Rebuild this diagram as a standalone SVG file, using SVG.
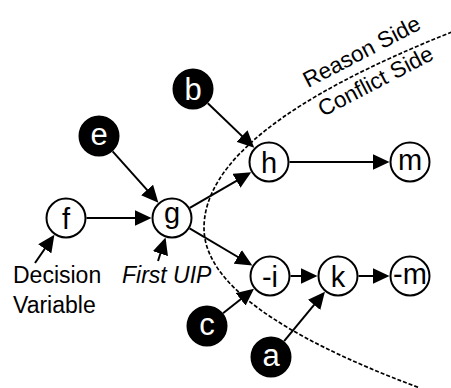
<svg xmlns="http://www.w3.org/2000/svg" width="451" height="388" viewBox="0 0 451 388">
  <style>
    .node circle { fill: #fff; stroke: #000; stroke-width: 2; }
    .node text { font-family: "Liberation Sans", Arial, sans-serif; font-size: 29px; fill: #000; text-anchor: middle; }
    .dark circle { fill: #000; }
    .dark text { fill: #fff; font-size: 31px; }
    .edge { stroke: #000; stroke-width: 2; fill: none; marker-end: url(#arrow); }
    .label { font-family: "Liberation Sans", Arial, sans-serif; font-size: 23px; fill: #000; }
    .side { font-family: "Liberation Sans", Arial, sans-serif; font-size: 22.5px; fill: #000; }
    .cut { fill: none; stroke: #000; stroke-width: 1.7; stroke-dasharray: 4 2; }
  </style>
  <defs>
    <marker id="arrow" markerUnits="userSpaceOnUse" markerWidth="17" markerHeight="16" refX="11" refY="8" orient="auto">
      <path d="M0,0 L17,8 L0,16 Z" fill="#000"/>
    </marker>
  </defs>

  <!-- cut separating reason side from conflict side -->
  <path class="cut" d="M452,32 Q204,130 204,228 Q204,308 420,388"/>
  <text class="side" transform="translate(308,88) rotate(-27.5)">Reason Side</text>
  <text class="side" transform="translate(323,117) rotate(-27.5)">Conflict Side</text>

  <!-- implication edges -->
  <g id="edges">
    <line class="edge" x1="207.8" y1="103.2" x2="249.9" y2="143.6"/>
    <line class="edge" x1="112.6" y1="151.3" x2="154.4" y2="198.2"/>
    <line class="edge" x1="86.5" y1="218" x2="145.5" y2="218"/>
    <line class="edge" x1="189.8" y1="207.8" x2="246" y2="175.3"/>
    <line class="edge" x1="189.6" y1="228.4" x2="247.2" y2="262.5"/>
    <line class="edge" x1="223" y1="313.2" x2="249.3" y2="292.5"/>
    <line class="edge" x1="284.1" y1="341.2" x2="321.1" y2="296.4"/>
    <line class="edge" x1="290.5" y1="276" x2="311.5" y2="276"/>
    <line class="edge" x1="358.5" y1="276" x2="383.5" y2="276"/>
    <line class="edge" x1="289.5" y1="162" x2="383.5" y2="162"/>
    <line class="edge" x1="35" y1="263" x2="51" y2="239.8"/>
    <line class="edge" x1="158" y1="261" x2="163.7" y2="243.2"/>
  </g>

  <!-- annotations -->
  <text class="label" x="13" y="283">Decision</text>
  <text class="label" x="13" y="313">Variable</text>
  <text class="label" x="122" y="283" font-style="italic">First UIP</text>

  <!-- literal nodes -->
  <g id="node-b" class="node dark"><circle cx="193" cy="89" r="19.5"/><text x="193" y="99.5">b</text></g>
  <g id="node-e" class="node dark"><circle cx="99" cy="136" r="19.5"/><text x="99" y="144.5">e</text></g>
  <g id="node-f" class="node"><circle cx="66" cy="218" r="19.5"/><text x="66" y="228.5">f</text></g>
  <g id="node-g" class="node"><circle cx="172" cy="218" r="19.5"/><text x="172" y="223">g</text></g>
  <g id="node-h" class="node"><circle cx="269" cy="162" r="19.5"/><text x="269" y="172.5">h</text></g>
  <g id="node-m" class="node"><circle cx="410" cy="162" r="19.5"/><text x="410" y="169.5">m</text></g>
  <g id="node-not-i" class="node"><circle cx="270" cy="276" r="19.5"/><text x="270" y="286.5">-i</text></g>
  <g id="node-k" class="node"><circle cx="338" cy="276" r="19.5"/><text x="338" y="286.5">k</text></g>
  <g id="node-not-m" class="node"><circle cx="410" cy="276" r="19.5"/><text x="410" y="283.5">-m</text></g>
  <g id="node-c" class="node dark"><circle cx="207" cy="326" r="19.5"/><text x="207" y="334.5">c</text></g>
  <g id="node-a" class="node dark"><circle cx="271" cy="357" r="19.5"/><text x="271" y="365.5">a</text></g>
</svg>
